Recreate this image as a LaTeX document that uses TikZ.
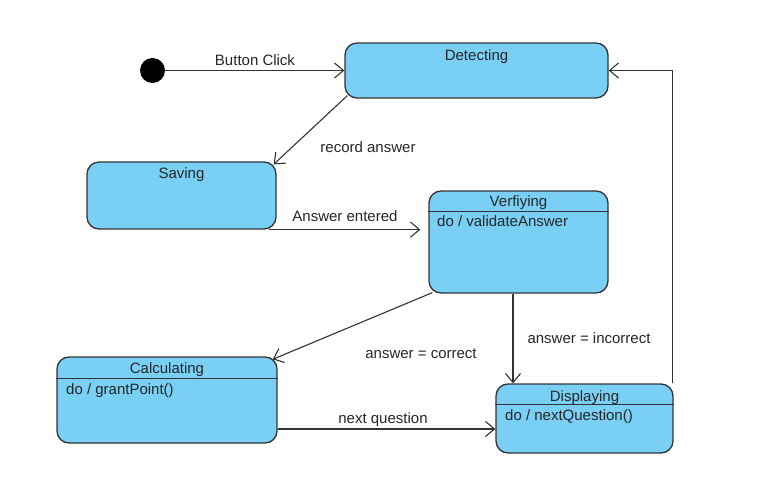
\documentclass[tikz,border=0pt]{standalone}
\usepackage{fontspec}
\setmainfont{Liberation Sans}
\usetikzlibrary{arrows.meta}
\definecolor{statefill}{RGB}{122,207,245}
\definecolor{stateline}{RGB}{51,51,51}
\begin{document}
\begin{tikzpicture}[x=1pt,y=-1pt,
  state/.style={draw=stateline,fill=statefill,line width=1.3pt,rounded corners=12pt,inner sep=0pt},
  trans/.style={draw=stateline,line width=1.1pt,-{Straight Barb[length=9pt,width=15pt]}},
  txt/.style={font=\fontsize{15}{17}\selectfont,text=black!85,inner sep=0pt,anchor=base}]
\useasboundingbox (0,0) rectangle (778,486);
\node[circle,fill=black,minimum size=25pt,inner sep=0pt] (init) at (152.5,70.5) {};
\node[state,minimum width=263pt,minimum height=55pt] (det) at (476.5,70.5) {};
\node[state,minimum width=189pt,minimum height=67pt] (sav) at (181.5,195.5) {};
\node[state,minimum width=179pt,minimum height=102pt] (ver) at (518.5,242) {};
\node[state,minimum width=220pt,minimum height=86pt] (cal) at (167,400) {};
\node[state,minimum width=177pt,minimum height=69pt] (dis) at (584.5,418.5) {};
\draw[stateline,line width=1.1pt] ([yshift=-21pt]ver.north west) -- ([yshift=-21pt]ver.north east);
\draw[stateline,line width=1.1pt] ([yshift=-22pt]cal.north west) -- ([yshift=-22pt]cal.north east);
\draw[stateline,line width=1.1pt] ([yshift=-21pt]dis.north west) -- ([yshift=-21pt]dis.north east);
\node[txt] (detT) at (476.5,60.5) {Detecting};
\node[txt] (savT) at (181.5,179) {Saving};
\node[txt] (verT) at (518.5,206.5) {Verfiying};
\node[txt] (calT) at (167,373.5) {Calculating};
\node[txt] (disT) at (584.5,401) {Displaying};
\node[txt,anchor=base west] (verA) at (437,226.5) {do / validateAnswer};
\node[txt,anchor=base west] (calA) at (66,394.5) {do / grantPoint()};
\node[txt,anchor=base west] (disA) at (505,420.5) {do / nextQuestion()};
\draw[trans] (init) -- (det);
\draw[trans] ([shift={(3,-3)}]det.south west) -- ([shift={(-3,3)}]sav.north east);
\draw[trans] ([xshift=-8pt]sav.south east) -- ([xshift=-8pt]sav.south east -| ver.west);
\draw[trans] ([shift={(4,-1)}]ver.south west) -- ([shift={(-5,3)}]cal.north east);
\draw[trans] ([xshift=-5.5pt]ver.south) -- ([xshift=-5.5pt]ver.south |- dis.north);
\draw[trans] ([yshift=-29pt]cal.east) -- ([yshift=-29pt]cal.east -| dis.west);
\draw[trans] ([xshift=-1pt]dis.north east) |- (det.east);
\node[txt] (lbClick) at (255,66) {Button Click};
\node[txt] (lbRecord) at (368,153) {record answer};
\node[txt] (lbEntered) at (345,222) {Answer entered};
\node[txt] (lbCorrect) at (421,358) {answer = correct};
\node[txt] (lbIncorrect) at (589,343) {answer = incorrect};
\node[txt] (lbNext) at (383,423) {next question};
\end{tikzpicture}
\end{document}
